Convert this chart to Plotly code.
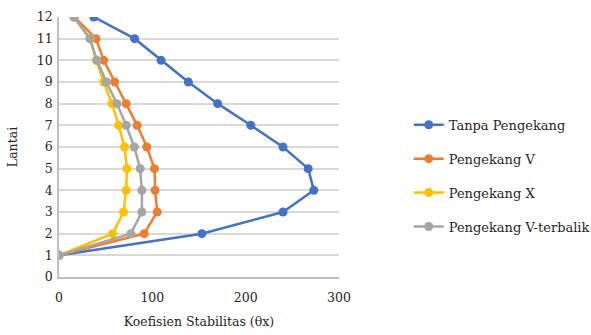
import plotly.graph_objects as go

floors = [1, 2, 3, 4, 5, 6, 7, 8, 9, 10, 11, 12]
tanpa = [0, 153, 240, 273, 267, 240, 205.5, 170, 138.6, 109.4, 81, 37.2]
peng_v = [0, 91.3, 105.2, 103, 102.3, 94.1, 83.8, 72, 59.6, 47.9, 39.7, 16.5]
peng_x = [0, 57.4, 69.2, 72, 72.8, 70.3, 63.9, 56.8, 47.9, 40, 33.5, 16]
peng_vt = [0, 77, 88.8, 88.8, 87, 80.6, 72, 62.1, 50.7, 40.8, 32.9, 16]

names = ["Tanpa Pengekang", "Pengekang V", "Pengekang X", "Pengekang V-terbalik"]
colors = ["#4472C4", "#ED7D31", "#FFC000", "#A5A5A5"]
series = [tanpa, peng_v, peng_x, peng_vt]

fig = go.Figure()
for i, (n, c, s) in enumerate(zip(names, colors, series)):
    fig.add_trace(go.Scatter(
        x=s, y=floors, name=n, mode="lines+markers",
        line=dict(color=c, width=2.5),
        marker=dict(color=c, size=9),
        legendgroup="g%d" % i,
    ))

font = "DejaVu Serif"
fig.update_layout(
    width=591, height=335,
    margin=dict(l=58.5, r=251.5, t=16.7, b=57.7, autoexpand=False),
    paper_bgcolor="white", plot_bgcolor="white",
    font=dict(family=font, size=12.5, color="#262626"),
    legend=dict(x=1.249, y=0.643, xanchor="left", yanchor="top",
                font=dict(family=font, size=13, color="#262626"),
                tracegroupgap=14, bgcolor="rgba(0,0,0,0)"),
    xaxis=dict(range=[0, 300], dtick=100, showgrid=False, zeroline=False,
               showline=True, linecolor="#BFBFBF", linewidth=1.5,
               ticks="", tickfont=dict(family=font, size=12.5), ticklabelstandoff=8,
               title=dict(text="Koefisien Stabilitas (θx)", font=dict(family=font, size=12.5), standoff=13)),
    yaxis=dict(range=[0, 12], dtick=1, showgrid=True, gridcolor="#D9D9D9", gridwidth=1.5,
               zeroline=False, showline=True, linecolor="#BFBFBF", linewidth=1.5,
               ticks="", tickfont=dict(family=font, size=12.5), ticklabelstandoff=2,
               title=dict(text="Lantai", font=dict(family=font, size=12.5), standoff=16)),
)
fig.write_html("out.html")
